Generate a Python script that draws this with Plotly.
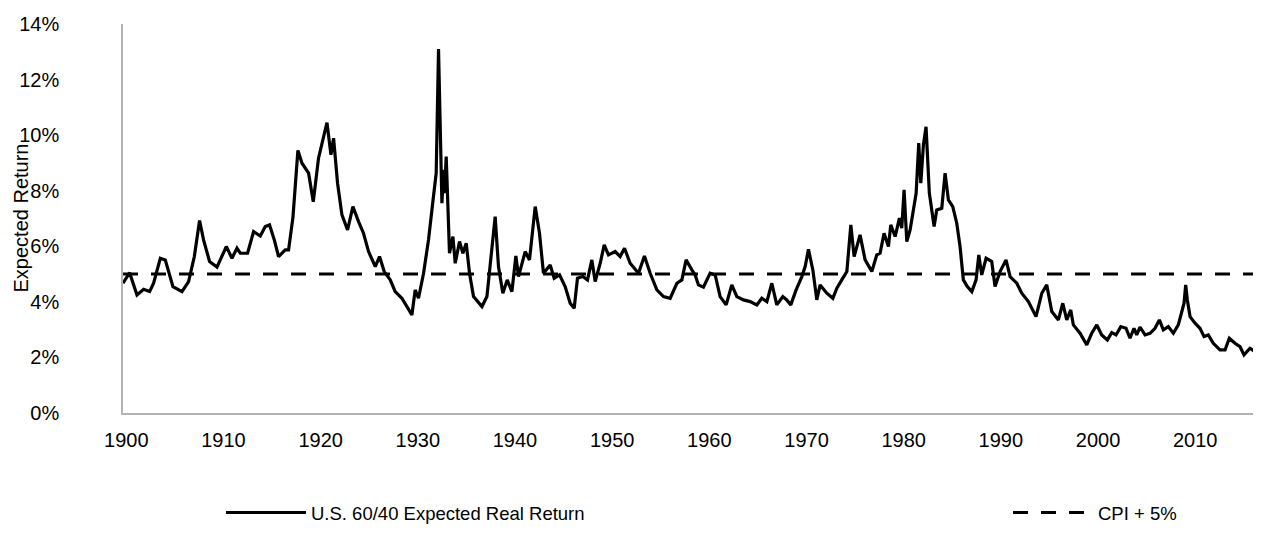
import plotly.graph_objects as go

# ---- data ----
years = [
    1899.66, 1900.34, 1901.10, 1901.78, 1902.40, 1902.81, 1903.50, 1904.01, 1904.80, 1905.73,
    1906.41, 1907.00, 1907.54, 1907.95, 1908.57, 1909.33, 1910.29, 1910.87, 1911.39, 1911.73,
    1912.48, 1913.10, 1913.79, 1914.30, 1914.74, 1915.23, 1915.67, 1916.36, 1916.70, 1917.15,
    1917.66, 1918.08, 1918.76, 1919.24, 1919.78, 1920.30, 1920.65, 1921.06, 1921.33, 1921.74,
    1922.19, 1922.77, 1923.32, 1923.90, 1924.41, 1924.93, 1925.62, 1926.06, 1926.54, 1927.16,
    1927.67, 1928.36, 1928.88, 1929.39, 1929.73, 1930.07, 1930.59, 1931.10, 1931.55, 1931.89,
    1932.13, 1932.48, 1932.64, 1932.75, 1932.92, 1933.26, 1933.61, 1933.85, 1934.29, 1934.64,
    1934.98, 1935.32, 1935.73, 1936.60, 1937.11, 1937.62, 1937.96, 1938.30, 1938.75, 1939.20,
    1939.68, 1940.09, 1940.36, 1941.05, 1941.49, 1942.08, 1942.52, 1942.93, 1943.62, 1944.03,
    1944.58, 1945.16, 1945.68, 1946.09, 1946.43, 1946.98, 1947.46, 1947.91, 1948.25, 1948.77,
    1949.18, 1949.62, 1950.31, 1950.82, 1951.27, 1951.85, 1952.71, 1953.32, 1953.91, 1954.60,
    1955.28, 1955.97, 1956.66, 1957.17, 1957.61, 1958.20, 1958.54, 1958.88, 1959.39, 1960.08,
    1960.60, 1961.11, 1961.73, 1962.31, 1962.83, 1963.51, 1964.20, 1964.89, 1965.40, 1965.92,
    1966.43, 1966.94, 1967.56, 1967.97, 1968.38, 1968.93, 1969.52, 1969.86, 1970.20, 1970.65,
    1971.06, 1971.40, 1972.09, 1972.71, 1973.12, 1973.63, 1974.15, 1974.56, 1974.90, 1975.18,
    1975.51, 1976.03, 1976.72, 1977.23, 1977.57, 1977.98, 1978.43, 1978.67, 1979.12, 1979.56,
    1979.80, 1980.04, 1980.32, 1980.66, 1981.00, 1981.28, 1981.55, 1981.76, 1982.03, 1982.30,
    1982.64, 1983.13, 1983.40, 1983.92, 1984.26, 1984.60, 1985.05, 1985.46, 1985.80, 1986.14,
    1986.55, 1987.01, 1987.45, 1987.73, 1988.03, 1988.48, 1989.06, 1989.40, 1989.92, 1990.53,
    1990.95, 1991.64, 1992.15, 1992.83, 1993.62, 1994.21, 1994.72, 1995.24, 1995.92, 1996.37,
    1996.78, 1997.19, 1997.46, 1998.15, 1998.84, 1999.35, 1999.87, 2000.38, 2000.96, 2001.41,
    2001.85, 2002.34, 2002.88, 2003.29, 2003.70, 2003.98, 2004.32, 2004.84, 2005.35, 2005.86,
    2006.31, 2006.72, 2007.23, 2007.75, 2008.26, 2008.61, 2008.85, 2009.02, 2009.19, 2009.47,
    2009.98, 2010.49, 2010.91, 2011.35, 2011.86, 2012.55, 2013.07, 2013.51, 2014.09, 2014.61,
    2015.02, 2015.64, 2016.15, 2016.49, 2016.77,
]

expected_real_return = [
    4.67, 5.05, 4.25, 4.45, 4.37, 4.67, 5.57, 5.51, 4.55, 4.37,
    4.73, 5.63, 6.93, 6.23, 5.45, 5.25, 5.99, 5.57, 5.93, 5.75,
    5.75, 6.53, 6.37, 6.71, 6.77, 6.23, 5.63, 5.87, 5.87, 7.05,
    9.45, 8.99, 8.63, 7.60, 9.17, 9.89, 10.45, 9.29, 9.89, 8.27,
    7.13, 6.59, 7.43, 6.89, 6.47, 5.81, 5.27, 5.63, 5.09, 4.79,
    4.37, 4.13, 3.85, 3.53, 4.43, 4.13, 5.03, 6.23, 7.61, 8.63,
    13.10, 7.55, 8.75, 7.91, 9.23, 5.75, 6.35, 5.39, 6.17, 5.75,
    6.11, 5.03, 4.19, 3.83, 4.19, 5.87, 7.07, 5.27, 4.31, 4.79,
    4.37, 5.65, 4.91, 5.81, 5.51, 7.43, 6.47, 5.03, 5.33, 4.85,
    4.97, 4.55, 3.95, 3.77, 4.85, 4.91, 4.79, 5.51, 4.73, 5.39,
    6.05, 5.69, 5.81, 5.63, 5.93, 5.39, 5.03, 5.65, 5.03, 4.43,
    4.19, 4.13, 4.67, 4.79, 5.51, 5.15, 4.97, 4.61, 4.53, 5.03,
    4.97, 4.19, 3.89, 4.61, 4.19, 4.07, 4.01, 3.89, 4.13, 4.01,
    4.67, 3.89, 4.19, 4.07, 3.89, 4.43, 4.91, 5.27, 5.89, 5.15,
    4.07, 4.61, 4.31, 4.13, 4.49, 4.79, 5.09, 6.77, 5.63, 5.99,
    6.41, 5.51, 5.09, 5.69, 5.75, 6.47, 5.99, 6.77, 6.35, 7.01,
    6.65, 8.03, 6.17, 6.59, 7.37, 7.91, 9.71, 8.27, 9.65, 10.30,
    7.91, 6.71, 7.31, 7.37, 8.63, 7.67, 7.43, 6.83, 5.99, 4.79,
    4.55, 4.37, 4.79, 5.69, 4.97, 5.57, 5.45, 4.55, 5.09, 5.51,
    4.91, 4.67, 4.31, 4.01, 3.47, 4.31, 4.61, 3.65, 3.35, 3.95,
    3.35, 3.71, 3.17, 2.87, 2.45, 2.87, 3.17, 2.81, 2.63, 2.89,
    2.81, 3.11, 3.05, 2.69, 3.05, 2.81, 3.09, 2.81, 2.87, 3.05,
    3.35, 2.99, 3.11, 2.87, 3.17, 3.59, 3.95, 4.61, 4.07, 3.47,
    3.23, 3.05, 2.75, 2.81, 2.51, 2.27, 2.27, 2.69, 2.51, 2.39,
    2.09, 2.33, 2.21, 1.97, 2.33,
]

cpi_plus_5_years = [1899.66, 2016.77]
cpi_plus_5 = [5.0, 5.0]

x_tick_years = [1900, 1910, 1920, 1930, 1940, 1950, 1960, 1970, 1980, 1990, 2000, 2010]
x_tick_labels = [str(y) for y in x_tick_years]
y_tick_values = [0, 2, 4, 6, 8, 10, 12, 14]
y_tick_labels = [f"{v}%" for v in y_tick_values]

FONT = "Liberation Sans, Arial, sans-serif"
FS = 20
LFS = 18.5

# the page body adds an 8px offset, so the figure is 8px smaller than the window
PLOT_W = 1138

fig = go.Figure()
fig.add_trace(go.Scatter(
    x=years, y=expected_real_return, mode="lines",
    name="U.S. 60/40 Expected Real Return",
    line=dict(color="#000000", width=3.2),
    legend="legend",
))
fig.add_trace(go.Scatter(
    x=cpi_plus_5_years, y=cpi_plus_5, mode="lines",
    name="CPI + 5%",
    line=dict(color="#000000", width=3, dash="15px,13px"),
    legend="legend2",
))

fig.update_layout(
    width=1253, height=536,
    margin=dict(l=115, r=0, t=16, b=131, autoexpand=False),
    paper_bgcolor="white", plot_bgcolor="white",
    font=dict(family=FONT, size=FS, color="#000000"),
    showlegend=True,
    legend=dict(orientation="h", x=(221 - 123) / PLOT_W, xanchor="left", y=-0.257, yanchor="middle",
                itemwidth=80, font=dict(size=LFS), bgcolor="rgba(0,0,0,0)"),
    legend2=dict(orientation="h", x=(1008 - 123) / PLOT_W, xanchor="left", y=-0.257, yanchor="middle",
                 itemwidth=80, font=dict(size=LFS), bgcolor="rgba(0,0,0,0)"),
    xaxis=dict(
        range=[1899.66, 2016.77], tickvals=x_tick_years, ticktext=x_tick_labels,
        showgrid=False, zeroline=False, showline=True, linecolor="#B3B3B3", linewidth=1.5,
        ticks="", ticklabelstandoff=8, tickfont=dict(size=FS), automargin=False,
    ),
    yaxis=dict(
        range=[0, 14], tickvals=y_tick_values, ticktext=y_tick_labels,
        showgrid=False, zeroline=False, showline=True, linecolor="#B3B3B3", linewidth=1.5,
        ticks="", ticklabelstandoff=58, tickfont=dict(size=FS), automargin=False,
    ),
    annotations=[dict(
        text="Expected Return", textangle=-90, xref="paper", yref="paper",
        x=(20 - 123) / PLOT_W, y=0.5, xanchor="center", yanchor="middle",
        showarrow=False, font=dict(size=FS),
    )],
)

fig.write_html("out.html")
